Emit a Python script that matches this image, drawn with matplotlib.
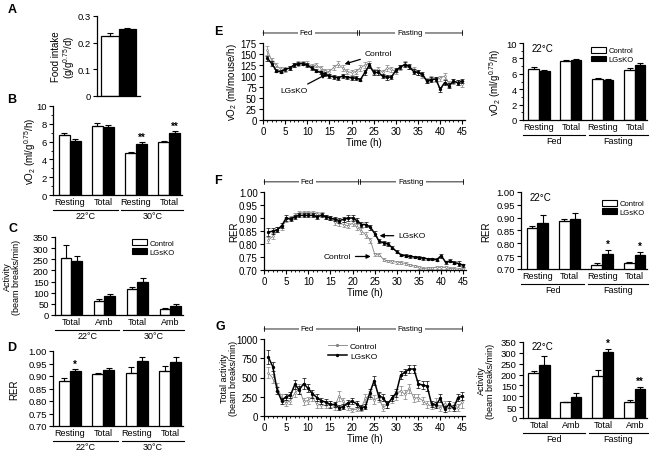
import matplotlib
matplotlib.use('Agg')
import matplotlib.pyplot as plt
import matplotlib.transforms as mtransforms
from matplotlib.patches import Patch
from matplotlib.lines import Line2D
from matplotlib.ticker import MultipleLocator, FormatStrFormatter
import numpy as np

plt.rcParams['font.family'] = ['Liberation Sans', 'DejaVu Sans']
plt.rcParams['mathtext.default'] = 'regular'
plt.rcParams['font.size'] = 6.5
plt.rcParams['axes.linewidth'] = 0.9

# ---------------- data ----------------
# A: food intake
food_ctrl = [0.225]
food_ctrl_err = [0.012]
food_ko = [0.250]
food_ko_err = [0.005]

# B: vO2 at 22 / 30 C
b_labels = ['Resting', 'Total', 'Resting', 'Total']
b_ctrl = [6.7, 7.8, 4.7, 5.9]
b_ctrl_err = [0.30, 0.30, 0.15, 0.20]
b_ko = [6.1, 7.6, 5.75, 7.0]
b_ko_err = [0.20, 0.30, 0.15, 0.15]
b_stars = ['', '', '**', '**']
temp_groups = ['22°C', '30°C']

# C: activity
c_labels = ['Total', 'Amb', 'Total', 'Amb']
c_ctrl = [258, 65, 117, 28]
c_ctrl_err = [57, 5, 10, 3]
c_ko = [243, 85, 150, 42]
c_ko_err = [20, 10, 18, 7]
c_stars = ['', '', '', '']

# D: RER
d_labels = ['Resting', 'Total', 'Resting', 'Total']
d_ctrl = [0.881, 0.908, 0.913, 0.921]
d_ctrl_err = [0.010, 0.005, 0.025, 0.020]
d_ko = [0.920, 0.925, 0.960, 0.957]
d_ko_err = [0.007, 0.007, 0.015, 0.018]
d_stars = ['*', '', '', '']

# time courses (hours 1..45)
hours = list(range(1, 46))
feed_groups = ['Fed', 'Fasting']

e_ctrl = [158, 135, 125, 115, 115, 118, 125, 128, 130, 128, 122, 125, 118, 112, 110,
          120, 127, 118, 110, 108, 110, 118, 125, 128, 110, 115, 108, 118, 115, 110,
          120, 128, 120, 115, 108, 100, 90, 95, 92, 95, 100, 82, 88, 85, 82]
e_ctrl_err = [10, 6, 5, 5, 5, 5, 5, 5, 5, 5, 5, 5, 5, 5, 5, 6, 6, 6, 5, 5, 5, 6, 6,
              6, 5, 6, 6, 6, 6, 6, 6, 5, 5, 5, 5, 5, 5, 6, 6, 6, 6, 6, 6, 6, 6]
e_ko = [140, 128, 112, 110, 115, 118, 125, 128, 128, 125, 118, 112, 108, 104, 100,
        98, 96, 100, 97, 96, 95, 92, 108, 124, 108, 108, 100, 97, 98, 113,
        120, 126, 122, 110, 108, 104, 88, 92, 93, 70, 85, 78, 88, 85, 88]
e_ko_err = [6, 5, 4, 4, 4, 4, 4, 4, 4, 4, 4, 4, 4, 4, 4, 4, 4, 4, 4, 4, 4, 4, 5,
            5, 5, 5, 5, 5, 5, 5, 5, 5, 5, 5, 5, 5, 5, 5, 5, 6, 5, 5, 5, 5, 5]

f_ctrl = [0.815, 0.830, 0.855, 0.865, 0.895, 0.900, 0.910, 0.920, 0.920, 0.920,
          0.920, 0.915, 0.915, 0.905, 0.900, 0.885, 0.880, 0.875, 0.870, 0.880,
          0.865, 0.850, 0.835, 0.815, 0.760, 0.758, 0.740, 0.735, 0.733, 0.730,
          0.728, 0.725, 0.720, 0.715, 0.710, 0.705, 0.708, 0.708, 0.710, 0.710,
          0.710, 0.705, 0.705, 0.703, 0.702]
f_ctrl_err = [0.012, 0.012, 0.010, 0.010, 0.010, 0.008, 0.008, 0.008, 0.008, 0.008,
              0.008, 0.008, 0.008, 0.008, 0.008, 0.010, 0.010, 0.010, 0.010, 0.012,
              0.012, 0.012, 0.010, 0.010, 0.006, 0.006, 0.005, 0.005, 0.005, 0.005,
              0.005, 0.005, 0.005, 0.005, 0.005, 0.005, 0.005, 0.005, 0.005, 0.005,
              0.005, 0.005, 0.005, 0.005, 0.005]
f_ko = [0.845, 0.850, 0.855, 0.870, 0.900, 0.895, 0.905, 0.910, 0.910, 0.910,
        0.910, 0.905, 0.910, 0.905, 0.900, 0.895, 0.890, 0.895, 0.900, 0.900,
        0.890, 0.875, 0.875, 0.865, 0.840, 0.810, 0.805, 0.800, 0.785, 0.770,
        0.758, 0.755, 0.752, 0.750, 0.748, 0.745, 0.743, 0.742, 0.740, 0.755,
        0.730, 0.735, 0.728, 0.725, 0.718]
f_ko_err = [0.015, 0.012, 0.010, 0.010, 0.010, 0.008, 0.008, 0.008, 0.008, 0.008,
            0.008, 0.008, 0.008, 0.008, 0.008, 0.008, 0.010, 0.010, 0.010, 0.010,
            0.010, 0.010, 0.010, 0.010, 0.010, 0.008, 0.008, 0.008, 0.006, 0.006,
            0.005, 0.005, 0.005, 0.005, 0.005, 0.005, 0.005, 0.005, 0.006, 0.008,
            0.006, 0.006, 0.006, 0.008, 0.006]

g_ctrl = [560, 490, 380, 240, 170, 200, 300, 350, 190, 200, 250, 150, 140, 140, 160,
          120, 260, 190, 120, 80, 90, 100, 230, 270, 210, 240, 110, 150, 220, 270,
          330, 280, 360, 230, 240, 200, 150, 130, 180, 100, 160, 100, 140, 110, 180]
g_ctrl_err = [70, 60, 50, 40, 40, 40, 50, 60, 50, 50, 60, 40, 40, 40, 40, 40, 60, 50,
              40, 30, 30, 30, 50, 50, 60, 60, 40, 40, 50, 60, 60, 60, 60, 50, 50, 50,
              40, 40, 60, 40, 40, 40, 40, 50, 70]
g_ko = [763, 640, 330, 200, 250, 270, 410, 340, 420, 360, 290, 240, 200, 180, 150,
        150, 110, 120, 170, 190, 160, 110, 120, 300, 460, 260, 240, 150, 230, 300,
        530, 570, 610, 610, 420, 400, 390, 160, 140, 230, 90, 150, 100, 240, 260]
g_ko_err = [90, 60, 50, 40, 40, 40, 60, 50, 70, 50, 50, 40, 40, 40, 40, 30, 30, 30,
            40, 40, 40, 30, 30, 50, 60, 50, 50, 40, 40, 50, 50, 40, 50, 50, 50, 50,
            60, 40, 40, 50, 40, 40, 40, 50, 50]

# E/F/G right: 22C, fed vs fasting
eb_labels = ['Resting', 'Total', 'Resting', 'Total']
eb_ctrl = [6.65, 7.6, 5.3, 6.55]
eb_ctrl_err = [0.25, 0.20, 0.20, 0.20]
eb_ko = [6.4, 7.8, 5.2, 7.1]
eb_ko_err = [0.15, 0.15, 0.10, 0.30]
eb_stars = ['', '', '', '']

fb_labels = ['Resting', 'Total', 'Resting', 'Total']
fb_ctrl = [0.860, 0.888, 0.717, 0.723]
fb_ctrl_err = [0.008, 0.007, 0.006, 0.003]
fb_ko = [0.880, 0.895, 0.760, 0.755]
fb_ko_err = [0.030, 0.025, 0.015, 0.012]
fb_stars = ['', '', '*', '*']

gb_labels = ['Total', 'Amb', 'Total', 'Amb']
gb_ctrl = [205, 72, 192, 72]
gb_ctrl_err = [12, 3, 30, 10]
gb_ko = [245, 95, 303, 133]
gb_ko_err = [40, 18, 15, 12]
gb_stars = ['', '', '*', '**']

# ---------------- layout helpers ----------------
W, H = 656, 464
fig = plt.figure(figsize=(W / 100, H / 100), dpi=100)
fig.patch.set_facecolor('white')


def px_axes(left, top, right, bottom):
    ax = fig.add_axes([left / W, 1 - bottom / H, (right - left) / W, (bottom - top) / H])
    ax._px = (left, right)
    for s in ['top', 'right']:
        ax.spines[s].set_visible(False)
    ax.tick_params(direction='out', length=3, width=0.8, labelsize=6.8, pad=1.5)
    ax.tick_params(which='minor', direction='out', length=1.5, width=0.6)
    return ax


def ylabel_at(ax, text, x_px, size=7):
    # x_px is the horizontal centre of the (rotated) label, in figure pixels
    left, right = ax._px
    ax.set_ylabel(text, fontsize=size, linespacing=1.0)
    ax.yaxis.label.set_verticalalignment('center')
    ax.yaxis.set_label_coords((x_px - left) / (right - left), 0.5)


def bar_panel(ax, labels, ctrl, ctrl_err, ko, ko_err, stars, groups, ylim, major, minor=None):
    x = np.arange(len(labels))
    w = 0.33
    zeros = np.zeros(len(labels))
    ax.bar(x - w / 2, ctrl, w, color='white', edgecolor='black', linewidth=0.9, zorder=2)
    ax.bar(x + w / 2, ko, w, color='black', edgecolor='black', linewidth=0.9, zorder=2)
    ax.errorbar(x - w / 2, ctrl, yerr=[zeros, ctrl_err], fmt='none', ecolor='black',
                elinewidth=0.8, capsize=2, capthick=0.8, zorder=3)
    ax.errorbar(x + w / 2, ko, yerr=[zeros, ko_err], fmt='none', ecolor='black',
                elinewidth=0.8, capsize=2, capthick=0.8, zorder=3)
    span = ylim[1] - ylim[0]
    for i, s in enumerate(stars):
        if s:
            ax.text(x[i] + w / 2, ko[i] + ko_err[i] + 0.01 * span, s, ha='center',
                    va='bottom', fontsize=7, fontweight='bold')
    ax.set_xlim(-0.5, 3.38)
    ax.set_ylim(*ylim)
    ax.yaxis.set_major_locator(MultipleLocator(major))
    if minor:
        ax.yaxis.set_minor_locator(MultipleLocator(minor))
    ax.set_xticks(x)
    ax.set_xticklabels(labels, fontsize=6.5)
    ax.tick_params(axis='x', length=0, pad=1.5)
    # group underlines and labels
    line_tr = mtransforms.offset_copy(ax.get_xaxis_transform(), fig=fig, y=-10.5, units='points')
    text_tr = mtransforms.offset_copy(ax.get_xaxis_transform(), fig=fig, y=-11.5, units='points')
    for (a, b), g in zip([(-0.5, 1.45), (1.55, 3.42)], groups):
        ax.plot([a, b], [0, 0], color='black', lw=0.8, transform=line_tr, clip_on=False)
        ax.text((a + b) / 2, 0, g, ha='center', va='top', fontsize=6.5, transform=text_tr)


def legend_boxes(ax, x, y):
    handles = [Patch(facecolor='white', edgecolor='black', linewidth=0.8),
               Patch(facecolor='black', edgecolor='black', linewidth=0.8)]
    ax.legend(handles, ['Control', 'LGsKO'], loc='upper left', bbox_to_anchor=(x, y),
              frameon=False, fontsize=5.5, handlelength=2.0, handleheight=0.8,
              labelspacing=0.15, handletextpad=0.3, borderpad=0, borderaxespad=0)


def line_panel(ax, ctrl, ctrl_err, ko, ko_err, ylim, major):
    ax.errorbar(hours, ctrl, yerr=ctrl_err, color='0.5', lw=0.6, marker='o', ms=1.3,
                mfc='white', mec='0.5', mew=0.5, elinewidth=0.5, capsize=1.2,
                capthick=0.5, zorder=2)
    ax.errorbar(hours, ko, yerr=ko_err, color='black', lw=1.1, marker='o', ms=1.4,
                elinewidth=0.5, capsize=1.2, capthick=0.5, zorder=3)
    ax.set_xlim(0, 45.6)
    ax.set_ylim(*ylim)
    ax.xaxis.set_major_locator(MultipleLocator(5))
    ax.xaxis.set_minor_locator(MultipleLocator(1))
    ax.yaxis.set_major_locator(MultipleLocator(major))
    ax.set_xlabel('Time (h)', fontsize=7, labelpad=0.5)
    ax.tick_params(axis='x', labelsize=7)
    ax.tick_params(axis='y', labelsize=7)
    # Fed / Fasting bracket
    tr = ax.get_xaxis_transform()
    yb = 1.13
    for (a, b), g in zip([(0, 21.2), (21.6, 45)], feed_groups):
        ax.annotate('', xy=(a, yb), xytext=(b, yb), xycoords=tr, textcoords=tr,
                    arrowprops=dict(arrowstyle='|-|', lw=0.6, mutation_scale=1.8,
                                    shrinkA=0, shrinkB=0))
    ax.text(9.8, yb, 'Fed', transform=tr, ha='center', va='center', fontsize=5.5,
            bbox=dict(facecolor='white', edgecolor='none', pad=1.5))
    ax.text(33.2, yb, 'Fasting', transform=tr, ha='center', va='center', fontsize=5.5,
            bbox=dict(facecolor='white', edgecolor='none', pad=1.5))


arrow_kw = dict(arrowstyle='-|>', lw=0.9, color='black', mutation_scale=6,
                shrinkA=1, shrinkB=0)

# ---------------- A ----------------
axA = px_axes(97, 17, 140, 97)
axA.bar([0], food_ctrl, 0.5, color='white', edgecolor='black', linewidth=0.9)
axA.bar([0.5], food_ko, 0.5, color='black', edgecolor='black', linewidth=0.9)
axA.errorbar([0], food_ctrl, yerr=[[0], food_ctrl_err], fmt='none', ecolor='black',
             elinewidth=0.8, capsize=2, capthick=0.8)
axA.errorbar([0.5], food_ko, yerr=[[0], food_ko_err], fmt='none', ecolor='black',
             elinewidth=0.8, capsize=2, capthick=0.8)
axA.set_xlim(-0.35, 0.85)
axA.set_ylim(0, 0.3)
axA.set_yticks([0, 0.1, 0.2, 0.3])
axA.set_yticklabels(['0', '0.1', '0.2', '0.3'])
axA.set_xticks([])
ylabel_at(axA, 'Food intake\n(g/g$^{0.75}$/d)', 64)

# ---------------- B ----------------
axB = px_axes(53, 107, 182, 196)
bar_panel(axB, b_labels, b_ctrl, b_ctrl_err, b_ko, b_ko_err, b_stars, temp_groups,
          (0, 10), 2, 1)
ylabel_at(axB, 'vO$_2$ (ml/g$^{0.75}$/h)', 30)

# ---------------- C ----------------
axC = px_axes(55, 238, 183, 316)
bar_panel(axC, c_labels, c_ctrl, c_ctrl_err, c_ko, c_ko_err, c_stars, temp_groups,
          (0, 350), 50)
legend_boxes(axC, 0.6, 0.97)
ylabel_at(axC, 'Activity\n(beam breaks/min)', 12, size=6.5)

# ---------------- D ----------------
axD = px_axes(53, 352, 183, 427)
bar_panel(axD, d_labels, d_ctrl, d_ctrl_err, d_ko, d_ko_err, d_stars, temp_groups,
          (0.70, 1.00), 0.05)
axD.yaxis.set_major_formatter(FormatStrFormatter('%.2f'))
ylabel_at(axD, 'RER', 14)

# ---------------- E ----------------
axE = px_axes(263, 44, 465, 121)
line_panel(axE, e_ctrl, e_ctrl_err, e_ko, e_ko_err, (0, 175), 25)
ylabel_at(axE, 'vO$_2$ (ml/mouse/h)', 232)
axE.annotate('Control', xy=(18.4, 127), xytext=(26, 150), ha='center', va='center',
             fontsize=6, arrowprops=arrow_kw)
axE.annotate('LGsKO', xy=(14.3, 104), xytext=(7.1, 66), ha='center', va='center',
             fontsize=6, arrowprops=arrow_kw)

axEb = px_axes(523, 44, 647, 121)
bar_panel(axEb, eb_labels, eb_ctrl, eb_ctrl_err, eb_ko, eb_ko_err, eb_stars, feed_groups,
          (0, 10), 2, 1)
legend_boxes(axEb, 0.55, 0.95)
axEb.text(0.07, 0.93, '22°C', transform=axEb.transAxes, ha='left', va='center', fontsize=7)
ylabel_at(axEb, 'vO$_2$ (ml/g$^{0.75}$/h)', 495)

# ---------------- F ----------------
axF = px_axes(264, 193, 466, 271)
line_panel(axF, f_ctrl, f_ctrl_err, f_ko, f_ko_err, (0.70, 1.00), 0.05)
axF.yaxis.set_major_formatter(FormatStrFormatter('%.2f'))
ylabel_at(axF, 'RER', 234)
axF.annotate('LGsKO', xy=(26.1, 0.832), xytext=(33.3, 0.832), ha='center', va='center',
             fontsize=6, arrowprops=arrow_kw)
axF.annotate('Control', xy=(24.1, 0.752), xytext=(16.6, 0.752), ha='center', va='center',
             fontsize=6, arrowprops=arrow_kw)

axFb = px_axes(521, 193, 647, 270)
bar_panel(axFb, fb_labels, fb_ctrl, fb_ctrl_err, fb_ko, fb_ko_err, fb_stars, feed_groups,
          (0.70, 1.00), 0.05)
axFb.yaxis.set_major_formatter(FormatStrFormatter('%.2f'))
legend_boxes(axFb, 0.64, 0.90)
axFb.text(0.07, 0.93, '22°C', transform=axFb.transAxes, ha='left', va='center', fontsize=7)
ylabel_at(axFb, 'RER', 486)

# ---------------- G ----------------
axG = px_axes(264, 340, 465, 417)
line_panel(axG, g_ctrl, g_ctrl_err, g_ko, g_ko_err, (0, 1000), 250)
ylabel_at(axG, 'Total activity\n(beam breaks/min)', 229, size=6.5)
g_handles = [Line2D([], [], color='0.5', lw=0.6, marker='o', ms=1.3, mfc='white', mec='0.5'),
             Line2D([], [], color='black', lw=1.1, marker='o', ms=1.4)]
axG.legend(g_handles, ['Control', 'LGsKO'], loc='upper left', bbox_to_anchor=(0.32, 0.96),
           frameon=False, fontsize=6, handlelength=2.2, labelspacing=0.3,
           handletextpad=0.4, borderpad=0, borderaxespad=0)

axGb = px_axes(523, 343, 647, 419)
bar_panel(axGb, gb_labels, gb_ctrl, gb_ctrl_err, gb_ko, gb_ko_err, gb_stars, feed_groups,
          (0, 350), 50)
axGb.text(0.07, 0.95, '22°C', transform=axGb.transAxes, ha='left', va='center', fontsize=7)
ylabel_at(axGb, 'Activity\n(beam breaks/min)', 486, size=6.5)

# ---------------- panel letters ----------------
for letter, (px, py) in {'A': (12, 10), 'B': (12, 100), 'C': (13, 229), 'D': (12, 348),
                         'E': (218, 32), 'F': (218, 181), 'G': (220, 327)}.items():
    fig.text(px / W, 1 - py / H, letter, fontsize=9, fontweight='bold', ha='center',
             va='center')

fig.savefig('out.png', dpi=100)
